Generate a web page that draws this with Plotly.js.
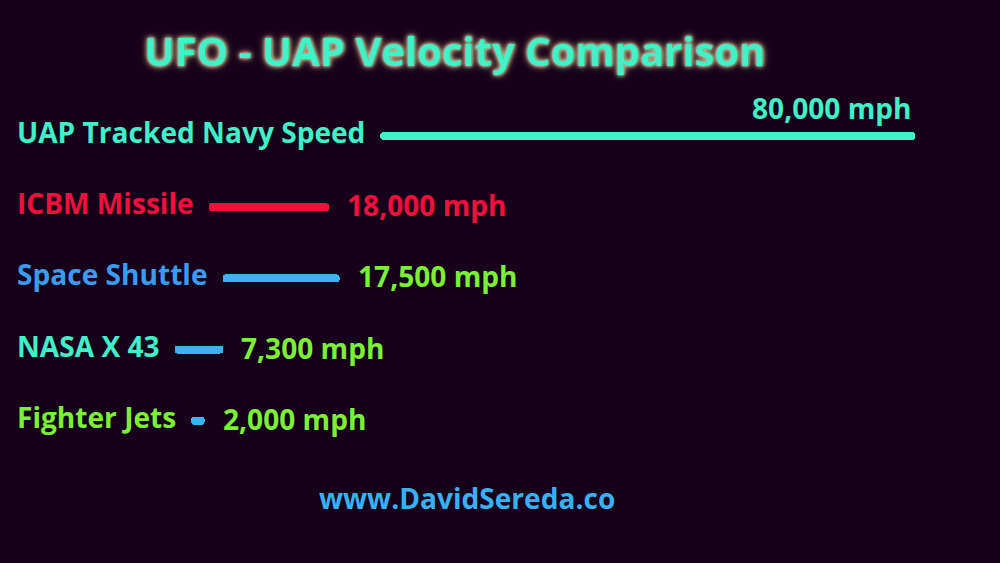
<!DOCTYPE html>
<html><head><meta charset="utf-8">
<script src="https://cdn.plot.ly/plotly-3.0.1.min.js"></script>
<style>html,body{margin:0;padding:0;background:#17001a;overflow:hidden}#chart{width:1000px;height:563px}</style>
</head><body><div id="chart"></div>
<script>
// ---- data ----
const categories = ['UAP Tracked Navy Speed', 'ICBM Missile', 'Space Shuttle', 'NASA X 43', 'Fighter Jets'];
const speeds = [80000, 18000, 17500, 7300, 2000];
const valueLabels = ['80,000 mph', '18,000 mph', '17,500 mph', '7,300 mph', '2,000 mph'];
const titleText = 'UFO - UAP Velocity Comparison';
const footerText = 'www.DavidSereda.co';

// ---- styles ----
const labelColors = ['#40f0c8', '#f0103c', '#3a9cf0', '#40f0c8', '#7cf034'];
const barColors   = ['#40f0c8', '#f0103c', '#38b4f0', '#38b4f0', '#38b4f0'];
const valueColors = ['#40f0c8', '#f0103c', '#7cf034', '#7cf034', '#7cf034'];

const W = 1000, H = 563;
const FAM = 'Open Sans';
const FONT = '"Open Sans", Lato, sans-serif';
const targetLabelWidth = 348;      // width of the first label in the reference
const pxPerMph = 535 / 80000;       // horizontal scale
const xMax = W / pxPerMph;
const labelLeftPx = 15, gapPx = 14, valueGapPx = 16;
const rowPx = 71.2, firstRowPx = 136;

function draw() {
  const ctx = document.createElement('canvas').getContext('2d');
  ctx.font = 'bold 100px "' + FAM + '"';
  const labelSize = Math.round(100 * targetLabelWidth / ctx.measureText(categories[0]).width * 10) / 10;
  ctx.font = 'bold ' + labelSize + 'px "' + FAM + '"';
  const bases = categories.map(c => (labelLeftPx + 3 + ctx.measureText(c).width + gapPx) / pxPerMph);

  const trace = {
    type: 'bar', orientation: 'h',
    y: categories, x: speeds, base: bases,
    width: 0.11,
    marker: {color: barColors, cornerradius: 4, line: {width: 0}},
    hoverinfo: 'skip', showlegend: false
  };

  const f = (col) => ({family: FONT, size: labelSize, color: col, weight: 'bold'});
  const ann = [];
  categories.forEach((c, i) => {
    ann.push({xref: 'paper', x: labelLeftPx / W, xanchor: 'left', yref: 'y', y: c, yshift: 4,
      text: c, showarrow: false, font: f(labelColors[i])});
    const end = bases[i] + speeds[i];
    if (i === 0) {
      ann.push({xref: 'x', x: end, xanchor: 'right', xshift: -2, yref: 'y', y: c, yshift: 28,
        text: valueLabels[i], showarrow: false, font: f(valueColors[i])});
    } else {
      ann.push({xref: 'x', x: end, xanchor: 'left', xshift: valueGapPx, yref: 'y', y: c, yshift: 2,
        text: valueLabels[i], showarrow: false, font: f(valueColors[i])});
    }
  });
  ann.push({xref: 'paper', x: 0.467, xanchor: 'center', yref: 'paper', y: 1 - 498 / H, yanchor: 'middle',
    text: footerText, showarrow: false, font: f('#36b2f2')});

  const layout = {
    width: W, height: H,
    margin: {l: 0, r: 0, t: 0, b: 0},
    paper_bgcolor: '#17001a', plot_bgcolor: '#17001a',
    title: {text: titleText, x: 0.455, xanchor: 'center', xref: 'paper',
      y: 1 - 52 / H, yref: 'container', yanchor: 'middle',
      font: {family: FONT, size: 40, color: '#40f2c8', weight: 'bold',
        shadow: '0 0 1px #6a5a48, 0 0 3px #e8d8b8, 0 0 5px #d8c098, 0 0 9px #a08060'}},
    xaxis: {range: [0, xMax], visible: false, fixedrange: true},
    yaxis: {type: 'category', categoryarray: categories, categoryorder: 'array',
      range: [(H - firstRowPx) / rowPx, -firstRowPx / rowPx], visible: false, fixedrange: true},
    annotations: ann,
    bargap: 0
  };
  Plotly.newPlot('chart', [trace], layout, {displayModeBar: false, staticPlot: true});
}
if (document.fonts && document.fonts.load) {
  document.fonts.load('bold 28px "Open Sans"').then(draw, draw);
} else { draw(); }
</script></body></html>
